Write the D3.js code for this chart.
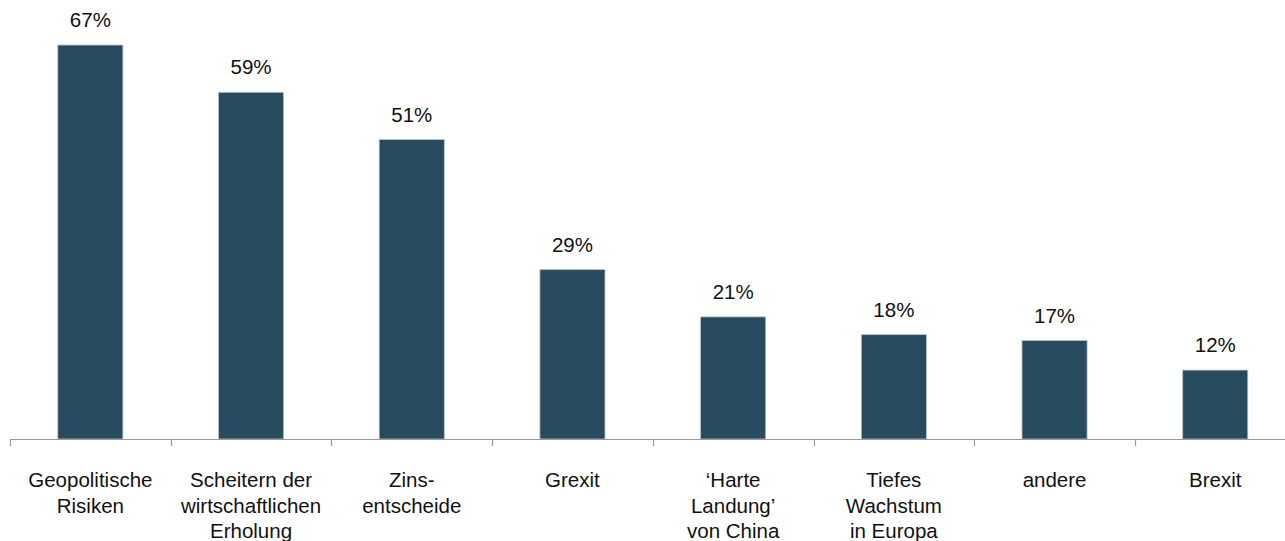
<!DOCTYPE html>
<html>
<head>
<meta charset="utf-8">
<script src="https://cdn.jsdelivr.net/npm/d3@7"></script>
<style>
  html, body { margin: 0; padding: 0; background: #fff; }
  svg { display: block; }
  text { font-family: "Liberation Sans", Arial, sans-serif; fill: #111; }
</style>
</head>
<body>
<svg id="chart" width="1285" height="541"></svg>
<script>
// Risk categories (line breaks marked with \n)
const categories = [
  "Geopolitische\nRisiken",
  "Scheitern der\nwirtschaftlichen\nErholung",
  "Zins-\nentscheide",
  "Grexit",
  "\u2018Harte\nLandung\u2019\nvon China",
  "Tiefes\nWachstum\nin Europa",
  "andere",
  "Brexit"
];
const values = [67, 59, 51, 29, 21, 18, 17, 12];
const valueLabels = ["67%", "59%", "51%", "29%", "21%", "18%", "17%", "12%"];

const svg = d3.select("#chart");
const baseY = 439;
const x = d3.scaleBand()
  .domain(categories)
  .range([10, 10 + 160.7 * categories.length])
  .paddingInner(0.595)
  .paddingOuter(0.2975);
const y = d3.scaleLinear().domain([0, 70]).range([441, 441 - 70 * 5.91]);

// Bars
svg.append("g").selectAll("rect")
  .data(values)
  .join("rect")
  .attr("x", (d, i) => x(categories[i]))
  .attr("y", d => y(d))
  .attr("width", x.bandwidth())
  .attr("height", d => baseY - y(d))
  .attr("fill", "#284a5f")
  .attr("stroke", "#b8c2c9")
  .attr("stroke-width", 0.8);

// Value labels above bars
svg.append("g").selectAll("text")
  .data(values)
  .join("text")
  .attr("x", (d, i) => x(categories[i]) + x.bandwidth() / 2)
  .attr("y", d => y(d) - 18)
  .attr("text-anchor", "middle")
  .attr("font-size", 20.5)
  .text((d, i) => valueLabels[i]);

// Category axis with ticks at band boundaries
const axisG = svg.append("g");
const [r0, r1] = x.range();
axisG.append("line")
  .attr("x1", r0).attr("x2", r1)
  .attr("y1", baseY + 0.5).attr("y2", baseY + 0.5)
  .attr("stroke", "#9a9a9a").attr("stroke-width", 1.2);
const step = x.step();
const boundaries = d3.range(categories.length + 1).map(i => r0 + i * step);
axisG.selectAll("line.tick")
  .data(boundaries)
  .join("line")
  .attr("class", "tick")
  .attr("x1", d => Math.round(d) + 0.5).attr("x2", d => Math.round(d) + 0.5)
  .attr("y1", baseY).attr("y2", baseY + 7)
  .attr("stroke", "#9a9a9a").attr("stroke-width", 1.2);

// Category labels (multi-line)
const labelG = svg.append("g");
categories.forEach(c => {
  const t = labelG.append("text")
    .attr("x", x(c) + x.bandwidth() / 2)
    .attr("y", 487)
    .attr("text-anchor", "middle")
    .attr("font-size", 20.5);
  c.split("\n").forEach((line, j) => {
    t.append("tspan")
      .attr("x", x(c) + x.bandwidth() / 2)
      .attr("dy", j === 0 ? 0 : 25.5)
      .text(line);
  });
});
</script>
</body>
</html>
